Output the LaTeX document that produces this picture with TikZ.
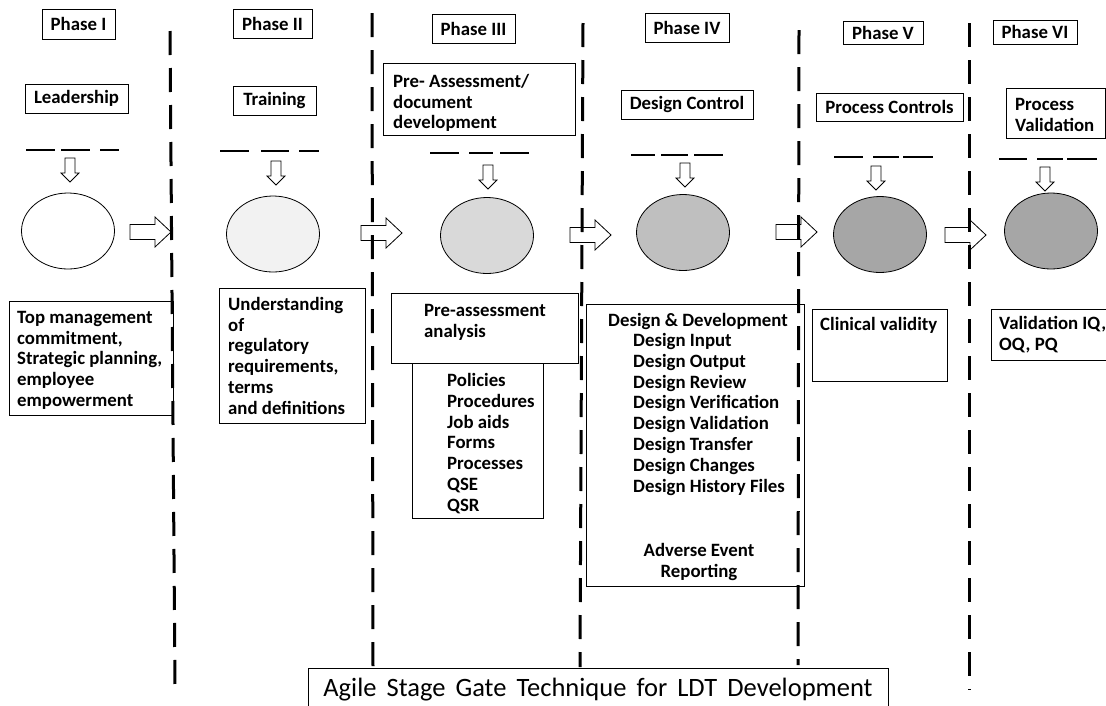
\documentclass[tikz,border=0pt]{standalone}
\usepackage{fontspec}
\setmainfont{Carlito}
\usetikzlibrary{shapes.geometric}
\definecolor{stage1}{gray}{1}
\definecolor{stage2}{gray}{0.95}
\definecolor{stage3}{gray}{0.85}
\definecolor{stage4}{gray}{0.75}
\definecolor{stage5}{gray}{0.65}
\tikzset{
  lbl/.style={draw,line width=0.8pt,inner sep=0pt,font=\fontsize{18.8}{20.8}\selectfont\bfseries},
  frame/.style={draw,line width=0.8pt,inner sep=0pt,anchor=north west},
  txt/.style={inner sep=0pt,align=left,anchor=north west,yshift=-3.5pt,execute at begin node=\strut,
    font=\fontsize{18.8}{20.8}\selectfont\bfseries},
  stage/.style={ellipse,draw,line width=0.8pt,fill=#1,minimum width=93pt,minimum height=76pt,inner sep=0pt},
  stage/.default=stage1,
  gate/.style={line width=2.6pt},
  wall/.style={line width=3pt,dash pattern=on 24pt off 13pt},
  % hollow block arrows
  pics/rarrow/.style={code={
    \draw[fill=white,line width=0.8pt] (0,-7.5) -- (25,-7.5) -- (25,-15) -- (41,0) -- (25,15) -- (25,7.5) -- (0,7.5) -- cycle;
  }},
  pics/darrow/.style={code={
    \draw[fill=white,line width=0.8pt] (-5,0) -- (5,0) -- (5,15) -- (9,15) -- (0,24) -- (-9,15) -- (-5,15) -- cycle;
  }},
}
\begin{document}
\begin{tikzpicture}[x=1pt,y=-1pt]
  \useasboundingbox (0,0) rectangle (1106,705);
  % phase headers
  \node[lbl,minimum width=73pt,minimum height=30pt] (ph1) at (78.5,24) {Phase I};
  \node[lbl,minimum width=79pt,minimum height=29pt] (ph2) at (272.5,23.5) {Phase II};
  \node[lbl,minimum width=83pt,minimum height=29pt] (ph3) at (473.5,28.5) {Phase III};
  \node[lbl,minimum width=84pt,minimum height=29pt] (ph4) at (687,27.5) {Phase IV};
  \node[lbl,minimum width=80pt,minimum height=23pt] (ph5) at (883,32.5) {Phase V};
  \node[lbl,minimum width=84pt,minimum height=24pt] (ph6) at (1035,32) {Phase VI};
  % topics
  \node[lbl,minimum width=103pt,minimum height=29pt] (lead) at (76.5,98.5) {Leadership};
  \node[lbl,minimum width=83pt,minimum height=29pt] (train) at (274.5,100.5) {Training};
  \node[frame,minimum width=192pt,minimum height=72pt] (prebox) at (383,63) {};
  \node[txt] (pre) at (393,70.5) {Pre- Assessment/\\document\\development};
  \node[lbl,minimum width=132pt,minimum height=29pt] (dctl) at (687,104.5) {Design Control};
  \node[lbl,minimum width=147pt,minimum height=28pt] (pctl) at (889.5,107) {Process Controls};
  \node[frame,minimum width=99pt,minimum height=50pt] (pvbox) at (1006,88) {};
  \node[txt] (pv) at (1015,94.5) {Process\\Validation};
  % gates
  \foreach \a/\b/\y in {26/55/150,61/90/150,100/119/150,220/249/151,261/289/151,299/319/151,
      430/459/153,469/493/153,500/529/153,631/655/155,661/688/155,694/723/155,
      834/863/157,873/899/157,903/933/157,999/1027/159,1037/1063/159,1067/1097/159}
    \draw[gate] (\a,\y) -- (\b,\y);
  \foreach \x/\y in {70/158,276/161,488/165,685/163,876/166,1045/167}
    \pic at (\x,\y) {darrow};
  % stages
  \node[stage] (s1) at (68,231) {};
  \node[stage=stage2] (s2) at (273,234) {};
  \node[stage=stage3] (s3) at (487,235.5) {};
  \node[stage=stage4] (s4) at (683,232.5) {};
  \node[stage=stage5] (s5) at (880,234.5) {};
  \node[stage=stage5] (s6) at (1051,231) {};
  \foreach \x/\y in {130/232,361/233,570/235,776/232,945/235}
    \pic at (\x,\y) {rarrow};
  % outcomes
  \node[frame,minimum width=164pt,minimum height=114pt] (mgmtbox) at (9,301) {};
  \node[txt] (mgmt) at (17,307.5) {Top management\\commitment,\\Strategic planning,\\employee\\empowerment};
  \node[frame,minimum width=146pt,minimum height=135pt] (regbox) at (219,288) {};
  \node[txt] (reg) at (228,293.5) {Understanding\\of\\regulatory\\requirements,\\terms\\and definitions};
  \node[frame,minimum width=131pt,minimum height=155pt] (docbox) at (412,363) {};
  \node[txt] (docs) at (447,369.5) {Policies\\Procedures\\Job aids\\Forms\\Processes\\QSE\\QSR};
  \node[frame,minimum width=187pt,minimum height=70pt] (gapbox) at (391,293) {};
  \node[txt] (gap) at (424,300.5) {Pre-assessment\\analysis};
  \node[frame,minimum width=218pt,minimum height=282pt] (ddbox) at (586,304) {};
  \node[txt] (ddhead) at (608,308) {Design \& Development};
  \node[txt] (ddlist) at (633,329.5) {Design Input\\Design Output\\Design Review\\Design Verification\\Design Validation\\Design Transfer\\Design Changes\\Design History Files};
  \node[txt,align=center,anchor=north] (aer) at (699,539.5) {Adverse Event\\Reporting};
  \node[frame,minimum width=135pt,minimum height=72pt] (cvbox) at (812,309) {};
  \node[txt] (cv) at (820,312.5) {Clinical validity};
  \node[frame,minimum width=117pt,minimum height=51pt] (iqbox) at (991,309) {};
  \node[txt] (iq) at (999,312.5) {Validation IQ,\\OQ, PQ};
  % walls between phases
  \draw[wall] (170,31) -- (175,686);
  \draw[wall] (372,13) -- (373,668);
  \draw[wall] (583,23) -- (580,667);
  \draw[wall] (799,30) -- (798,665);
  \draw[wall] (969,23) -- (969,690);
  \node[draw,fill=white,line width=0.8pt,minimum width=580pt,minimum height=44pt,inner sep=0pt,
    font=\fontsize{26.5}{30}\selectfont] (title) at (598,690) {\spaceskip=0.38em\relax Agile Stage Gate Technique for LDT Development};
\end{tikzpicture}
\end{document}
